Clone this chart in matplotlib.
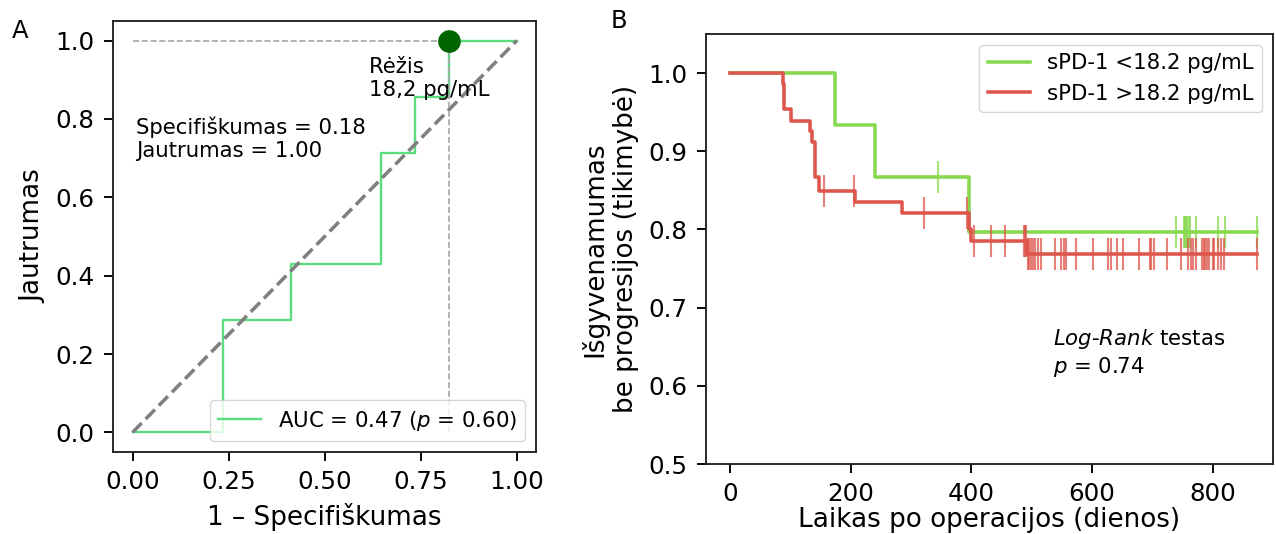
import numpy as np
import matplotlib
matplotlib.use("Agg")
import matplotlib.pyplot as plt

# ---------------- data ----------------
# Panel A: ROC curve (1 - specificity, sensitivity)
roc_fpr = [0.0, 0.235, 0.235, 0.412, 0.412, 0.647, 0.647, 0.735, 0.735, 0.8235, 0.8235, 1.0]
roc_tpr = [0.0, 0.0, 0.2857, 0.2857, 0.4286, 0.4286, 0.7143, 0.7143, 0.8571, 0.8571, 1.0, 1.0]
cut_fpr = 0.8235
cut_tpr = 1.0
auc_label = "AUC = 0.47 ($p$ = 0.60)"

# Panel B: Kaplan-Meier step values
low_times = [0, 174, 241, 396]
low_surv = [1.0, 0.933, 0.867, 0.797]
low_end = 874
low_censor = [344, 738.6, 752, 753.5, 755, 758, 760, 762, 773, 808, 820, 874]

high_times = [0, 87, 90, 101, 133, 136, 141, 147, 207, 285, 396, 400, 492]
high_surv = [1.0, 0.986, 0.954, 0.939, 0.926, 0.912, 0.867, 0.849, 0.835,
             0.8205, 0.80, 0.785, 0.768]
high_end = 874
high_censor = [156, 205, 321, 392, 404, 433, 455, 487, 489, 491, 494, 496, 498,
               502, 506, 510, 516, 538, 549, 554, 557, 573, 602, 626, 631, 642,
               652, 678, 696, 698, 703, 725, 747, 759, 764, 767, 772, 783, 786,
               788, 791, 794, 800, 803, 809, 813, 818, 874]

labels_km = ["sPD-1 <18.2 pg/mL", "sPD-1 >18.2 pg/mL"]
col_low = "#86d94e"
col_high = "#de554b"

# ---------------- style ----------------
S = 1.7
plt.rcParams.update({
    "font.family": ["DejaVu Sans"],
    "font.size": 17.5,
    "xtick.labelsize": 17.7,
    "ytick.labelsize": 17.7,
    "axes.labelsize": 18.9,
    "axes.labelpad": 6.5,
    "axes.linewidth": 0.8 * S,
    "xtick.major.size": 6.2,
    "ytick.major.size": 6.2,
    "xtick.major.width": 0.8 * S,
    "ytick.major.width": 0.8 * S,
    "xtick.major.pad": 7.0,
    "ytick.major.pad": 7.5,
    "legend.fontsize": 9 * S,
    "axes.edgecolor": "#222222",
})

W, H = 1276, 534
fig = plt.figure(figsize=(W / 100, H / 100), dpi=100)

def px_axes(l, r, t, b):
    return fig.add_axes([l / W, (H - b) / H, (r - l) / W, (b - t) / H])

# ---------------- Panel A ----------------
axA = px_axes(113.3, 536, 21, 452)
axA.plot(roc_fpr, roc_tpr, color="#5ade80", lw=1.0 * S, label=auc_label)
axA.plot([0, 1], [0, 1], color="gray", lw=1.5 * S, ls="--")
axA.plot([0, cut_fpr], [cut_tpr, cut_tpr], color="0.65", lw=0.7 * S, ls="--")
axA.plot([cut_fpr, cut_fpr], [0, cut_tpr], color="0.65", lw=0.7 * S, ls="--")
axA.plot([cut_fpr], [cut_tpr], "o", color="#006400", ms=9 * S, zorder=5)
axA.text(0.616, 0.903, "Rėžis\n18,2 pg/mL", fontsize=9 * S, va="center", ha="left")
axA.text(0.01, 0.749, "Specifiškumas = 0.18\nJautrumas = 1.00", fontsize=9 * S,
         va="center", ha="left")
axA.set_xlim(-0.05, 1.05)
axA.set_ylim(-0.05, 1.05)
axA.set_xticks([0.0, 0.25, 0.5, 0.75, 1.0])
axA.set_xticklabels(["0.00", "0.25", "0.50", "0.75", "1.00"])
axA.set_yticks([0.0, 0.2, 0.4, 0.6, 0.8, 1.0])
axA.set_xlabel("1 – Specifiškumas")
axA.set_ylabel("Jautrumas")
axA.legend(loc="lower right")

# ---------------- Panel B ----------------
axB = px_axes(706, 1273, 34, 464)

def km_draw(ax, times, surv, end, cens, color, label):
    t = list(times) + [end]
    s = list(surv) + [surv[-1]]
    ax.plot(t, s, drawstyle="steps-post", color=color, lw=1.5 * S, label=label)
    cens = np.asarray(cens, dtype=float)
    idx = np.searchsorted(np.asarray(times, dtype=float), cens, side="right") - 1
    cs = np.asarray(surv)[idx]
    ax.plot(cens, cs, ls="none", marker="|", ms=13.5 * S, mew=0.9 * S,
            color=color, alpha=0.75)

km_draw(axB, low_times, low_surv, low_end, low_censor, col_low, labels_km[0])
km_draw(axB, high_times, high_surv, high_end, high_censor, col_high, labels_km[1])

axB.set_xlim(-40, 900)
axB.set_ylim(0.5, 1.05)
axB.set_xticks([0, 200, 400, 600, 800])
axB.set_yticks([0.5, 0.6, 0.7, 0.8, 0.9, 1.0])
axB.set_xlabel("Laikas po operacijos (dienos)", labelpad=0.5)
axB.set_ylabel("Išgyvenamumas\nbe progresijos (tikimybė)")
axB.text(536, 0.642, r"$\it{Log}$-$\it{Rank}$ testas" + "\n" + r"$p$ = 0.74",
         fontsize=9 * S, va="center", ha="left")
axB.legend(loc="upper right")

fig.text(12 / W, 1 - 19 / H, "A", fontsize=17.5, va="top", ha="left")
fig.text(611 / W, 1 - 9 / H, "B", fontsize=17.5, va="top", ha="left")

fig.savefig("out.png", dpi=100)
